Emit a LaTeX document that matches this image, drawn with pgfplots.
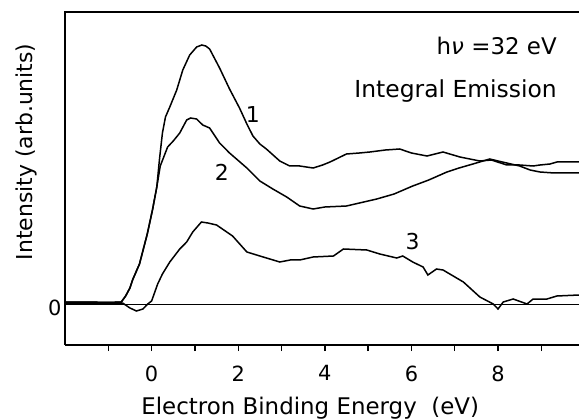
\documentclass[border=0pt]{standalone}
\usepackage{fontspec}
\setmainfont{DejaVu Sans}
\usepackage{pgfplots}
\pgfplotsset{compat=1.18}
\begin{document}
\begin{tikzpicture}
\begin{axis}[name=ax, scale only axis, width=514bp, height=333bp,
  xmin=-2, xmax=9.87, ymin=-41, ymax=292,
  clip=false,
  axis line style={draw=none},
  xtick={-1,0,...,9}, xticklabels={,0,,2,,4,,6,,8,},
  xtick pos=bottom, ytick pos=left,
  tick align=outside, major tick length=6bp,
  xtick style={line width=1.4bp, black},
  ytick={0}, yticklabels={0}, ytick style={draw=none},
  /pgf/number format/assume math mode=true,
  ticklabel style={font=\fontsize{21}{21}\selectfont},
  xticklabel style={yshift=-11bp},
  yticklabel style={xshift=6bp, yshift=-4bp},
]
% frame
\draw[line width=2.2bp] (rel axis cs:0,0) -- (rel axis cs:1,0);
\draw[line width=2.2bp] (rel axis cs:1,1) -- (rel axis cs:0,1) -- (rel axis cs:0,0);
% zero line
\addplot[black, line width=0.9bp] coordinates {(-2,0) (9.87,0)};
% curve 1
\addplot[black, line width=1.5bp] coordinates {
(-2.0,2) (-1.5,2) (-1.0,1.5) (-0.7,2) (-0.6,8) (-0.5,16) (-0.44,24) (-0.28,40) (-0.1,70) (0.02,94) (0.12,117) (0.18,144) (0.25,171) (0.32,187) (0.42,197) (0.58,214) (0.72,234) (0.88,249) (1.04,257) (1.16,259) (1.25,258) (1.34,255) (1.57,236) (1.8,215) (2.03,196) (2.2,180) (2.34,168) (2.5,160) (2.65,155) (2.96,143) (3.19,138) (3.42,138) (3.73,136) (3.95,139) (4.12,142) (4.5,150) (4.8,151) (5.04,152) (5.4,154) (5.73,155) (6.0,151) (6.36,148) (6.73,152) (7.12,147) (7.58,143) (7.85,144) (8.2,139) (8.5,139) (8.81,138) (8.97,139) (9.2,140) (9.36,142) (9.6,142) (9.87,142)};
% curve 2
\addplot[black, line width=1.5bp] coordinates {
(-2.0,2) (-1.5,2) (-1.0,1.5) (-0.7,2) (-0.6,8) (-0.5,16) (-0.44,24) (-0.28,40) (-0.1,70) (0.02,94) (0.12,117) (0.2,138) (0.37,157) (0.5,163) (0.65,171) (0.81,184) (0.9,186) (1.04,185) (1.18,179) (1.34,176) (1.57,161) (1.8,151) (2.2,136) (2.5,123) (2.8,115) (3.12,107) (3.42,98) (3.73,95) (4.0,97) (4.5,98) (5.2,105) (5.6,110) (6.03,118) (6.4,124) (6.82,132) (7.1,136) (7.42,140) (7.81,145) (8.0,143) (8.2,141) (8.5,138) (8.74,134) (8.97,132) (9.3,131) (9.87,131)};
% curve 3
\addplot[black, line width=1.5bp] coordinates {
(-2.0,1) (-1.0,1) (-0.67,1) (-0.5,-4) (-0.35,-7) (-0.2,-5) (-0.09,0) (0.0,3) (0.14,20) (0.25,30) (0.42,42) (0.65,55) (0.81,62) (0.95,72) (1.15,82) (1.3,81) (1.5,79) (1.87,68) (2.2,52) (2.5,48) (2.96,42) (3.2,44) (3.42,44) (3.73,47) (4.2,48) (4.43,55) (4.97,54) (5.27,50) (5.66,46) (5.8,48) (6.03,42) (6.27,37) (6.38,29) (6.58,35) (6.73,34) (7.2,22) (7.58,7) (7.89,0) (8.0,-5) (8.12,2) (8.35,5) (8.67,0) (8.81,5) (9.13,5) (9.36,8) (9.87,9)};
% curve labels
\node[font=\fontsize{22}{22}\selectfont, inner sep=0] at (axis cs:2.34,189) {1};
\node[font=\fontsize{22}{22}\selectfont, inner sep=0] at (axis cs:1.62,132) {2};
\node[font=\fontsize{22}{22}\selectfont, inner sep=0] at (axis cs:6.03,62) {3};
\node[font=\fontsize{23}{23}\selectfont, inner sep=0, anchor=base east] at (axis cs:9.36,249) {h\textit{ν} =32 eV};
\node[font=\fontsize{23.5}{23.5}\selectfont, inner sep=0, anchor=base east] at (axis cs:9.36,206) {Integral Emission};
% axis labels
\node[font=\fontsize{23}{23}\selectfont, inner sep=0, anchor=base] at ([yshift=-69bp]axis description cs:0.477,0) {Electron Binding Energy\ \ (eV)};
\node[font=\fontsize{22}{22}\selectfont, inner sep=0, xshift=-32bp, rotate=90, anchor=base] at (axis description cs:0,0.58) {Intensity (arb.units)};
\end{axis}
\pgfresetboundingbox
\path[use as bounding box] ([xshift=-65bp,yshift=-75bp]ax.south west) rectangle ([yshift=12bp]ax.north east);
\end{tikzpicture}
\end{document}
